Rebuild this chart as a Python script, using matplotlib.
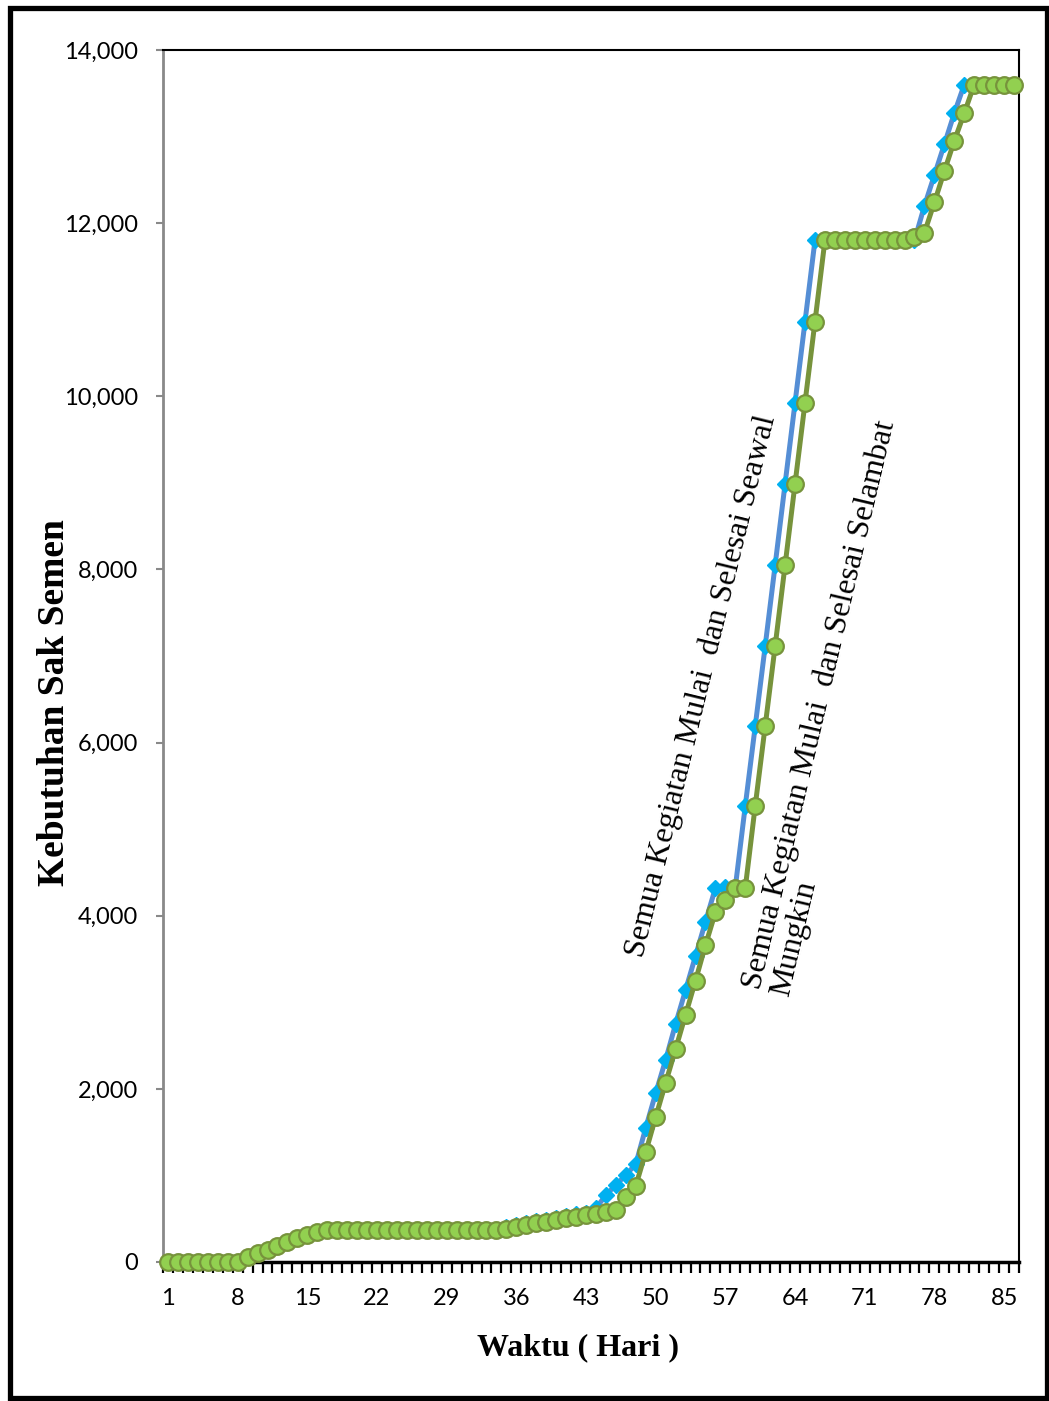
import matplotlib
matplotlib.use("Agg")
import matplotlib.pyplot as plt
from matplotlib.patches import Rectangle
from matplotlib.ticker import FuncFormatter, FixedLocator

# Days of the schedule
days = list(range(1, 87))

# Cement demand (sacks), all activities start and finish as early as possible
early = [0, 0, 0, 0, 0, 0, 0, 0,
         55, 100, 140, 185, 230, 280, 315, 350,
         365, 365, 365, 365, 365, 365, 365, 365, 365, 365, 365, 365, 365, 365, 365, 365, 365, 365,
         400, 425, 450, 470, 490, 510, 530, 550, 570, 620,
         775, 890, 1005, 1130, 1550, 1950, 2335, 2750, 3140, 3535, 3930,
         4320, 4330, 4330,
         5270, 6190, 7115, 8050, 8990, 9925, 10860,
         11800, 11800, 11800, 11800, 11800, 11800, 11800, 11800, 11800, 11800, 11800,
         12200, 12555, 12910, 13270,
         13600, 13600, 13600, 13600, 13600, 13600]

# Cement demand (sacks), all activities start and finish as late as possible
late = [0, 0, 0, 0, 0, 0, 0, 0,
        55, 100, 140, 185, 230, 280, 315, 350,
        365, 365, 365, 365, 365, 365, 365, 365, 365, 365, 365, 365, 365, 365, 365, 365, 365, 365,
        385, 405, 430, 450, 465, 485, 505, 520, 540, 560, 575, 595,
        750, 880, 1270, 1675, 2070, 2460, 2855, 3250, 3660, 4040, 4180,
        4320, 4320,
        5270, 6190, 7115, 8050, 8990, 9925, 10860,
        11800, 11800, 11800, 11800, 11800, 11800, 11800, 11800, 11800,
        11840, 11890, 12240, 12600, 12950, 13270,
        13600, 13600, 13600, 13600, 13600]

x_labels = [1, 8, 15, 22, 29, 36, 43, 50, 57, 64, 71, 78, 85]
y_ticks = [0, 2000, 4000, 6000, 8000, 10000, 12000, 14000]

label_early = "Semua Kegiatan Mulai  dan Selesai Seawal"
label_late = "Semua Kegiatan Mulai  dan Selesai Selambat\nMungkin"

W, H = 1049, 1401
fig = plt.figure(figsize=(W / 100, H / 100), dpi=100)
ax = fig.add_axes([163 / W, 1 - 1262 / H, (1019 - 163) / W, (1262 - 50) / H])

ax.plot(days, early, color="#558ED5", lw=3.6, marker="D", ms=8,
        mfc="#00B0F0", mec="#00B0F0", zorder=2, clip_on=False)
ax.plot(days, late, color="#77933C", lw=3.6, marker="o", ms=12,
        mfc="#92D050", mec="#77933C", mew=1.6, zorder=3, clip_on=False)

ax.set_xlim(0.5, 86.5)
ax.set_ylim(0, 14000)

# category axis: labels at centres, tick marks at category boundaries
ax.xaxis.set_major_locator(FixedLocator(x_labels))
ax.xaxis.set_minor_locator(FixedLocator([d + 0.5 for d in range(0, 87)]))
ax.tick_params(axis="x", which="major", length=0, pad=19, labelsize=17)
ax.tick_params(axis="x", which="minor", length=8, width=1.6, color="black", direction="out")
ax.set_yticks(y_ticks)
ax.yaxis.set_major_formatter(FuncFormatter(lambda v, p: f"{int(v):,}"))
ax.tick_params(axis="y", which="major", length=5, width=1.5, color="#898989", pad=13, labelsize=17)

for lab in ax.get_xticklabels() + ax.get_yticklabels():
    lab.set_fontfamily(["Lato", "DejaVu Sans"])

ax.spines["left"].set_color("#898989")
ax.spines["left"].set_linewidth(2)
ax.spines["bottom"].set_color("black")
ax.spines["bottom"].set_linewidth(2.5)
ax.spines["top"].set_color("black")
ax.spines["top"].set_linewidth(1.5)
ax.spines["right"].set_color("black")
ax.spines["right"].set_linewidth(1.5)

serif = ["Liberation Serif", "DejaVu Serif"]
ax.set_ylabel("Kebutuhan Sak Semen", fontsize=27, fontweight="bold", family=serif)
ax.yaxis.set_label_coords((72 - 163) / (1019 - 163), (1262 - 703) / (1262 - 50))
ax.set_xlabel("Waktu ( Hari )", fontsize=23, fontweight="bold", family=serif)
ax.xaxis.set_label_coords((578 - 163) / (1019 - 163), -(1333 - 1262) / (1262 - 50))

fig.text(643 / W, 1 - 958 / H, label_early, rotation=76.3, rotation_mode="anchor",
         ha="left", va="baseline", fontsize=23, family=serif)
fig.text(788 / W, 1 - 997 / H, label_late, rotation=76.7, rotation_mode="anchor",
         ha="left", va="baseline", fontsize=23, family=serif, linespacing=1.0)

# outer frame
fig.patches.append(Rectangle((9.5 / W, 3 / H), (1047 - 9.5) / W, (1393.5 - 3) / H,
                             transform=fig.transFigure, fill=False, lw=3.8,
                             edgecolor="black"))

fig.savefig("out.png", dpi=100)
